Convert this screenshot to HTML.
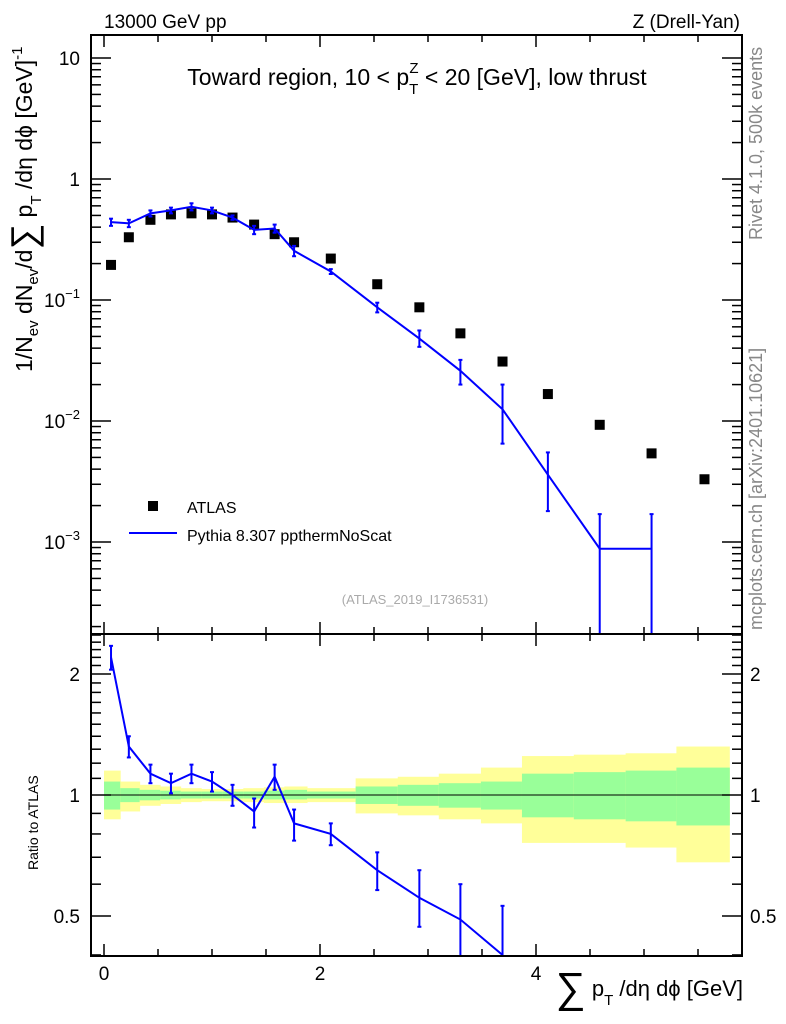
<!DOCTYPE html>
<html><head><meta charset="utf-8"><style>
body{margin:0;background:#fff;overflow:hidden;}
svg{display:block;font-family:"Liberation Sans",sans-serif;}
</style></head><body>
<svg id="c" width="786" height="1024" viewBox="0 0 786 1024">
<text x="104" y="28" font-size="19">13000 GeV pp</text>
<text x="740" y="28" font-size="19" text-anchor="end">Z (Drell-Yan)</text>
<text x="417" y="85" font-size="23" text-anchor="middle">Toward region, 10 &lt; p<tspan font-size="15" dy="9">T</tspan><tspan font-size="15" dx="-9" dy="-21">Z</tspan><tspan dy="12"> &lt; 20 [GeV], low thrust</tspan></text>
<text transform="translate(762,240) rotate(-90)" font-size="18" fill="#888">Rivet 4.1.0,  500k events</text>
<text transform="translate(762,630) rotate(-90)" font-size="18" fill="#888">mcplots.cern.ch [arXiv:2401.10621]</text>
<text x="415" y="604" font-size="13" fill="#aaa" text-anchor="middle">(ATLAS_2019_I1736531)</text>
<text transform="translate(32,372) rotate(-90)" font-size="23">1/N<tspan font-size="15" dy="6">ev</tspan><tspan dy="-6"> dN</tspan><tspan font-size="15" dy="6">ev</tspan><tspan dy="-6">/d</tspan><tspan font-size="36" dy="4">∑</tspan><tspan dy="-4"> p</tspan><tspan font-size="15" dy="9">T</tspan><tspan dy="-9"> /dη dϕ  [GeV]</tspan><tspan font-size="15" dy="-10">-1</tspan></text>
<text transform="translate(38,870) rotate(-90)" font-size="14">Ratio to ATLAS</text>
<text x="743" y="996" font-size="22" text-anchor="end"><tspan font-size="42" dy="6">∑</tspan><tspan dy="-6"> p</tspan><tspan font-size="15" dy="9">T</tspan><tspan dy="-9"> /dη dϕ [GeV]</tspan></text>
<rect x="148" y="501" width="10" height="10" fill="#000"/>
<text x="187" y="513" font-size="16">ATLAS</text>
<line x1="129" y1="533" x2="177" y2="533" stroke="#00f" stroke-width="2"/>
<text x="187" y="541" font-size="16">Pythia 8.307 ppthermNoScat</text>
<g id="g"></g>
</svg>
<script>
const xc=[0.065,0.23,0.43,0.62,0.81,1.0,1.19,1.39,1.58,1.76,2.1,2.53,2.92,3.3,3.69,4.11,4.59,5.07,5.56];
const edges=[0,0.15,0.33,0.52,0.71,0.9,1.1,1.29,1.48,1.67,1.88,2.33,2.72,3.1,3.49,3.87,4.35,4.83,5.3,5.79];
const atlas=[0.195,0.33,0.46,0.51,0.52,0.51,0.48,0.42,0.35,0.30,0.22,0.135,0.087,0.053,0.031,0.0167,0.0093,0.0054,0.0033];
const mc=[0.44,0.43,0.52,0.55,0.59,0.55,0.48,0.38,0.39,0.255,0.172,0.087,0.048,0.026,0.0125,0.0036,0.00088,0.00088];
const mcErrHi=[0.47,0.46,0.55,0.58,0.63,0.58,0.50,0.41,0.42,0.28,0.18,0.095,0.056,0.032,0.020,0.0055,0.0017,0.0017];
const mcErrLo=[0.41,0.40,0.49,0.52,0.55,0.52,0.46,0.35,0.36,0.23,0.164,0.079,0.041,0.020,0.0065,0.0018,0.0001,0.0001];
const ratio=[2.2,1.32,1.13,1.07,1.13,1.08,1.0,0.91,1.11,0.85,0.80,0.65,0.555,0.49,0.40,0.22];
const ratioHi=[2.35,1.4,1.19,1.13,1.19,1.14,1.06,0.98,1.19,0.92,0.85,0.72,0.65,0.6,0.53,0.35];
const ratioLo=[2.05,1.24,1.07,1.01,1.07,1.02,0.94,0.83,1.03,0.77,0.75,0.58,0.47,0.37,0.28,0.1];
const yHi=[1.15,1.08,1.06,1.05,1.04,1.035,1.035,1.04,1.045,1.05,1.04,1.1,1.11,1.13,1.17,1.25,1.26,1.27,1.32];
const yLo=[0.87,0.91,0.94,0.95,0.96,0.965,0.965,0.96,0.955,0.955,0.96,0.9,0.89,0.87,0.85,0.76,0.76,0.74,0.68];
const gHi=[1.08,1.04,1.03,1.025,1.02,1.02,1.02,1.02,1.025,1.03,1.02,1.05,1.06,1.07,1.08,1.13,1.14,1.15,1.17];
const gLo=[0.92,0.96,0.97,0.975,0.98,0.98,0.98,0.98,0.975,0.975,0.98,0.95,0.94,0.93,0.92,0.88,0.87,0.86,0.84];
const xTicksMajor=[0,2,4];
const mainDecades=[-3,-2,-1,0,1];
const ratioTicks=[0.5,1,2];

const L=91,R=742,T=35,M=634,B=956;
const X=v=>104+v*108;
const Y=v=>179-Math.log10(v)*121;
const YR=v=>795-Math.log2(v)*121;
const ns="http://www.w3.org/2000/svg";
const g=document.getElementById('g');
function el(t,a,name,p){const e=document.createElementNS(ns,t);for(const k in a)e.setAttribute(k,a[k]);(p||g).appendChild(e);return e;}
const clipM=el('clipPath',{id:'cm'},'clip-main');el('rect',{x:L,y:T,width:R-L,height:M-T},'clip-rect',clipM);
const clipR=el('clipPath',{id:'cr'},'clip-ratio');el('rect',{x:L,y:M,width:R-L,height:B-M},'clip-rect',clipR);
const gm=el('g',{'clip-path':'url(#cm)'},'main-plot-area');
const gr=el('g',{'clip-path':'url(#cr)'},'ratio-plot-area');
for(let i=0;i<yHi.length;i++){
 el('rect',{x:X(edges[i]),y:YR(yHi[i]),width:X(edges[i+1])-X(edges[i])+0.5,height:YR(yLo[i])-YR(yHi[i]),fill:'#ffff99'},'band-total-'+i,gr);
 el('rect',{x:X(edges[i]),y:YR(gHi[i]),width:X(edges[i+1])-X(edges[i])+0.5,height:YR(gLo[i])-YR(gHi[i]),fill:'#99ff99'},'band-stat-'+i,gr);
}
el('line',{x1:L,x2:R,y1:YR(1),y2:YR(1),stroke:'#000','stroke-width':1},'ratio-unity-line',gr);
atlas.forEach((v,i)=>el('rect',{x:X(xc[i])-5,y:Y(v)-5,width:10,height:10,fill:'#000'},'atlas-point-'+i,gm));
let pts=mc.map((v,i)=>X(xc[i])+','+Y(v)).join(' ');
el('polyline',{points:pts,fill:'none',stroke:'#00f','stroke-width':2},'pythia-line',gm);
mc.forEach((v,i)=>{const x=X(xc[i]);
 el('line',{x1:x,x2:x,y1:Y(mcErrHi[i]),y2:Math.min(Y(mcErrLo[i]),700),stroke:'#00f','stroke-width':2},'pythia-error-'+i,gm);
 el('line',{x1:x-2,x2:x+2,y1:Y(mcErrHi[i]),y2:Y(mcErrHi[i]),stroke:'#00f','stroke-width':2},'pythia-cap-'+i,gm);
 el('line',{x1:x-2,x2:x+2,y1:Y(mcErrLo[i]),y2:Y(mcErrLo[i]),stroke:'#00f','stroke-width':2},'pythia-cap-'+i,gm);});
let rp=ratio.map((v,i)=>X(xc[i])+','+YR(v)).join(' ');
el('polyline',{points:rp,fill:'none',stroke:'#00f','stroke-width':2},'ratio-line',gr);
ratio.forEach((v,i)=>{const x=X(xc[i]);
 el('line',{x1:x,x2:x,y1:YR(ratioHi[i]),y2:YR(ratioLo[i]),stroke:'#00f','stroke-width':2},'ratio-error-'+i,gr);
 el('line',{x1:x-2,x2:x+2,y1:YR(ratioHi[i]),y2:YR(ratioHi[i]),stroke:'#00f','stroke-width':2},'ratio-cap-'+i,gr);
 el('line',{x1:x-2,x2:x+2,y1:YR(ratioLo[i]),y2:YR(ratioLo[i]),stroke:'#00f','stroke-width':2},'ratio-cap-'+i,gr);});
el('rect',{x:L,y:T,width:R-L,height:M-T,fill:'none',stroke:'#000','stroke-width':2},'main-frame');
el('rect',{x:L,y:M,width:R-L,height:B-M,fill:'none',stroke:'#000','stroke-width':2},'ratio-frame');
for(let v=0;v<=6;v+=0.5){const x=X(v);if(x>R)break;const len=(v%2===0)?12:7;
 [[T,1],[M,-1],[M,1],[B,-1]].forEach(([y,d])=>el('line',{x1:x,x2:x,y1:y,y2:y+d*len,stroke:'#000','stroke-width':1.5},'x-tick'));}
xTicksMajor.forEach(v=>{const t=el('text',{x:X(v),y:980,'font-size':19,'text-anchor':'middle'},'x-tick-label');t.textContent=v;});
mainDecades.forEach(d=>{for(let k=1;k<10;k++){const v=k*Math.pow(10,d);const y=Y(v);if(y<T||y>M)continue;const len=k===1?20:10;
 el('line',{x1:L,x2:L+len,y1:y,y2:y,stroke:'#000','stroke-width':1.5},'y-tick');
 el('line',{x1:R,x2:R-len,y1:y,y2:y,stroke:'#000','stroke-width':1.5},'y-tick');}
 const t=el('text',{x:80,y:Y(Math.pow(10,d))+7,'font-size':19,'text-anchor':'end'},'y-tick-label');
 if(d===0)t.textContent='1';else if(d===1)t.textContent='10';else{t.textContent='10';const s=document.createElementNS(ns,'tspan');s.setAttribute('font-size','13');s.setAttribute('dy','-9');s.textContent=String(d).replace('-','−');t.appendChild(s);}});
for(let k=1;k<10;k++){const y=Y(k*1e-4);if(y<T||y>M)continue;
 el('line',{x1:L,x2:L+10,y1:y,y2:y,stroke:'#000','stroke-width':1.5},'y-tick');el('line',{x1:R,x2:R-10,y1:y,y2:y,stroke:'#000','stroke-width':1.5},'y-tick');}
for(let v=0.4;v<=2.55;v+=0.1){const y=YR(v);if(y<M||y>B)continue;const maj=ratioTicks.some(r=>Math.abs(r-v)<1e-6);const len=maj?20:10;
 el('line',{x1:L,x2:L+len,y1:y,y2:y,stroke:'#000','stroke-width':1.5},'ratio-tick');el('line',{x1:R,x2:R-len,y1:y,y2:y,stroke:'#000','stroke-width':1.5},'ratio-tick');}
ratioTicks.forEach(v=>{const t=el('text',{x:80,y:YR(v)+7,'font-size':19,'text-anchor':'end'},'ratio-tick-label');t.textContent=v;
 const t2=el('text',{x:750,y:YR(v)+7,'font-size':19},'ratio-tick-label-right');t2.textContent=v;});
</script>
</body></html>
